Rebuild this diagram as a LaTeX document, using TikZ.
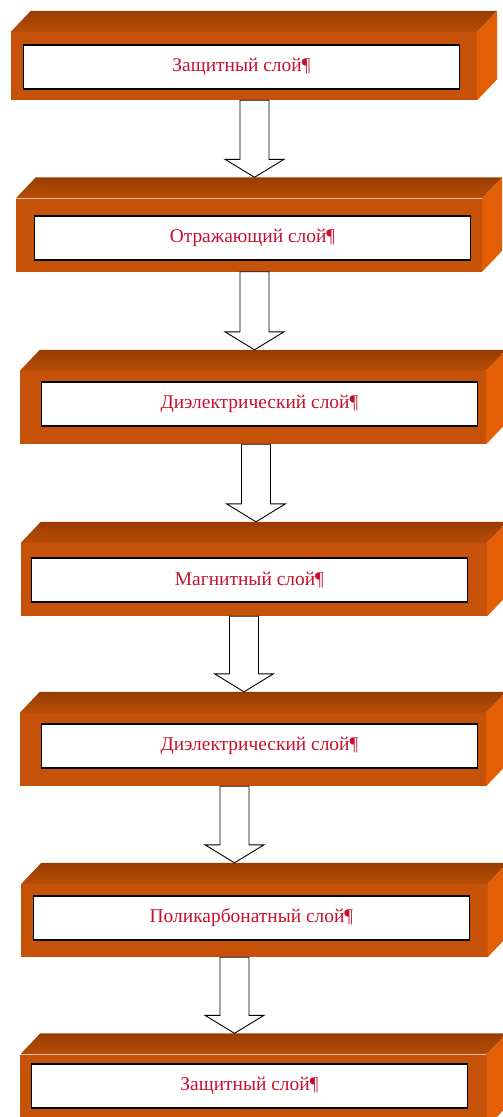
\documentclass[tikz,border=0pt]{standalone}
\usepackage{fontspec}
\setmainfont{Liberation Serif}
\usetikzlibrary{calc}
\definecolor{lyrfront}{HTML}{C55208}
\definecolor{lyrtop}{HTML}{983C02}
\definecolor{lyrtoplight}{HTML}{B84E06}
\definecolor{lyrside}{HTML}{E35E05}
\definecolor{lyrtext}{HTML}{C8102E}

\begin{document}
\begin{tikzpicture}[x=1bp, y=-1bp,
  front/.style={fill=lyrfront, minimum width=466bp, minimum height=73bp, inner sep=0pt},
  layer/.style={draw=black, line width=1.2bp, fill=white, minimum width=436bp, minimum height=44bp,
                inner sep=0pt, text=lyrtext, font=\fontsize{19.5}{22}\selectfont},
  blockarrow/.style={draw=black, line width=0.9bp, fill=white,
    to path={let \p1=(\tikztostart), \p2=(\tikztotarget) in
      (\x1-14.5bp,\y1) -- (\x1-14.5bp,\y2+18bp) -- (\x1-29.5bp,\y2+18bp) -- (\x1,\y2)
      -- (\x1+29.5bp,\y2+18bp) -- (\x1+14.5bp,\y2+18bp) -- (\x1+14.5bp,\y1) -- cycle}}
]
  \useasboundingbox (0,0) rectangle (503,1117);
  \clip (0,0) rectangle (503,1117);

  \node[front] (f1) at (244,66) [minimum height=68bp] {};
  \node[front] (f2) at (249,235) {};
  \node[front] (f3) at (253,407.5) {};
  \node[front] (f4) at (254,579.5) {};
  \node[front] (f5) at (253,749.5) {};
  \node[front] (f6) at (254.5,920.5) {};
  \node[front] (f7) at (253.5,1091) {};

  % top and side faces of the blocks
  \foreach \n in {1,...,7} {
    \shade[top color=lyrtop, bottom color=lyrtoplight]
      (f\n.north west) -- ++(20,-21) -- ($(f\n.north east)+(20,-21)$) -- (f\n.north east) -- cycle;
    \fill[lyrside]
      (f\n.north east) -- ++(20,-21) -- ($(f\n.south east)+(20,-21)$) -- (f\n.south east) -- cycle;
  }

  \node[layer] (l1) at (241.5,67) {Защитный слой¶};
  \node[layer] (l2) at (252.5,238) {Отражающий слой¶};
  \node[layer] (l3) at (259.5,404) {Диэлектрический слой¶};
  \node[layer] (l4) at (249.5,580) {Магнитный слой¶};
  \node[layer] (l5) at (259.5,746) {Диэлектрический слой¶};
  \node[layer] (l6) at (251.5,918) {Поликарбонатный слой¶};
  \node[layer] (l7) at (249.5,1086) {Защитный слой¶};

  \draw[blockarrow] ([xshift=10.5bp]f1.south) to ([yshift=21bp]f2.north);
  \draw[blockarrow] ([xshift=5.5bp]f2.south) to ([yshift=21bp]f3.north);
  \draw[blockarrow] ([xshift=3bp]f3.south) to ([yshift=21bp]f4.north);
  \draw[blockarrow] ([xshift=-10bp]f4.south) to ([yshift=21bp]f5.north);
  \draw[blockarrow] ([xshift=-18.5bp]f5.south) to ([yshift=21bp]f6.north);
  \draw[blockarrow] ([xshift=-20bp]f6.south) to ([yshift=21bp]f7.north);
\end{tikzpicture}
\end{document}
